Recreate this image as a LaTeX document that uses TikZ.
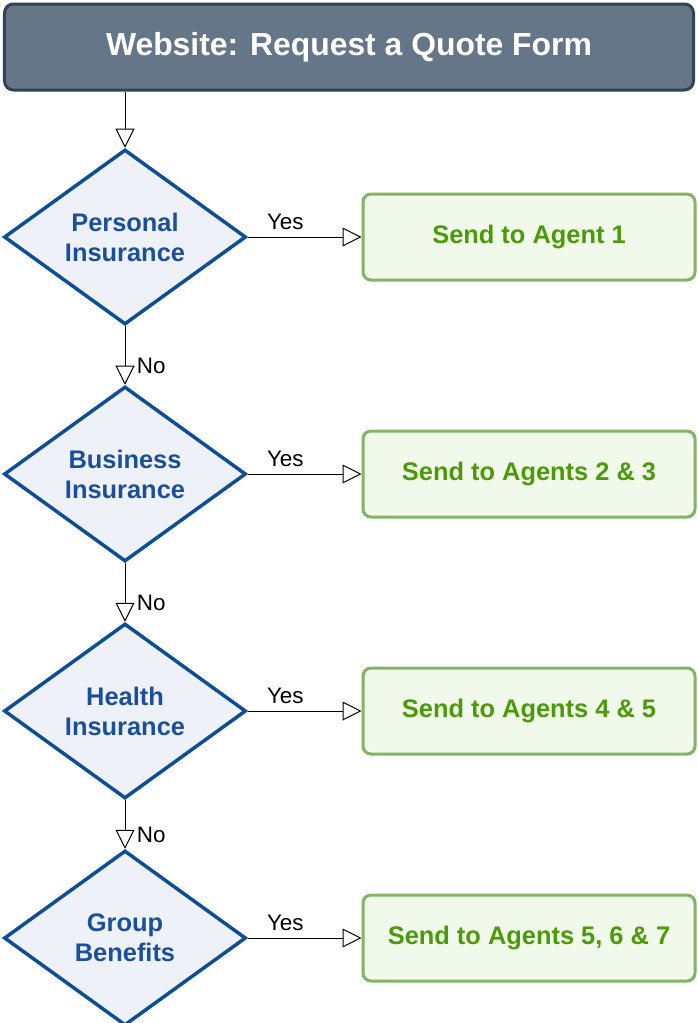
\documentclass[tikz,border=0pt]{standalone}
\usepackage{fontspec}
\setmainfont{Liberation Sans}
\usetikzlibrary{shapes.geometric,arrows.meta}
\definecolor{titlefill}{HTML}{647687}
\definecolor{titledraw}{HTML}{314354}
\definecolor{dfill}{HTML}{EEF2F8}
\definecolor{ddraw}{HTML}{0E4E96}
\definecolor{dtext}{HTML}{1A4F9C}
\definecolor{gfill}{HTML}{F1FAEA}
\definecolor{gdraw}{HTML}{82B366}
\definecolor{gtext}{HTML}{4A9A0A}
\begin{document}
\begin{tikzpicture}[x=1bp,y=-1bp,
 dec/.style={diamond,aspect=1.38,minimum width=242bp,minimum height=175bp,inner sep=0,fill=dfill,draw=ddraw,line width=3.5bp,text=dtext,font=\bfseries\fontsize{25.5}{30}\selectfont,align=center},
 box/.style={rectangle,rounded corners=8bp,minimum width=332bp,minimum height=86bp,fill=gfill,draw=gdraw,line width=3bp,text=gtext,font=\bfseries\fontsize{25.5}{30}\selectfont},
 arr/.style={draw=black,line width=1bp,-{Triangle[open,length=19bp,width=19bp]}},
 lab/.style={font=\fontsize{22.5}{26}\selectfont}]
\useasboundingbox (0,0) rectangle (698,1023);
\node[rectangle,rounded corners=9bp,minimum width=689bp,minimum height=86bp,fill=titlefill,draw=titledraw,line width=3bp,text=white,font=\bfseries\fontsize{32}{36}\selectfont] (t) at (349,47) {Website: Request a Quote Form};
\node[dec] (d1) at (125,237) {Personal\\Insurance};
\node[dec] (d2) at (125,474) {Business\\Insurance};
\node[dec] (d3) at (125,711) {Health\\Insurance};
\node[dec] (d4) at (125,938) {Group\\Benefits};
\node[box] (b1) at (529,237) {Send to Agent 1};
\node[box] (b2) at (529,474) {Send to Agents 2 \& 3};
\node[box] (b3) at (529,711) {Send to Agents 4 \& 5};
\node[box] (b4) at (529,938) {Send to Agents 5, 6 \& 7};
\draw[arr] (t.south -| d1) -- (d1);
\draw[arr] (d1) -- node[lab,right,xshift=8bp,yshift=-10bp]{No} (d2);
\draw[arr] (d2) -- node[lab,right,xshift=8bp,yshift=-10bp]{No} (d3);
\draw[arr] (d3) -- node[lab,right,xshift=8bp,yshift=-10bp]{No} (d4);
\foreach \i in {1,2,3,4}{
 \draw[arr] (d\i) -- node[lab,above,pos=0.33,yshift=3bp]{Yes} (b\i);}
\end{tikzpicture}
\end{document}
